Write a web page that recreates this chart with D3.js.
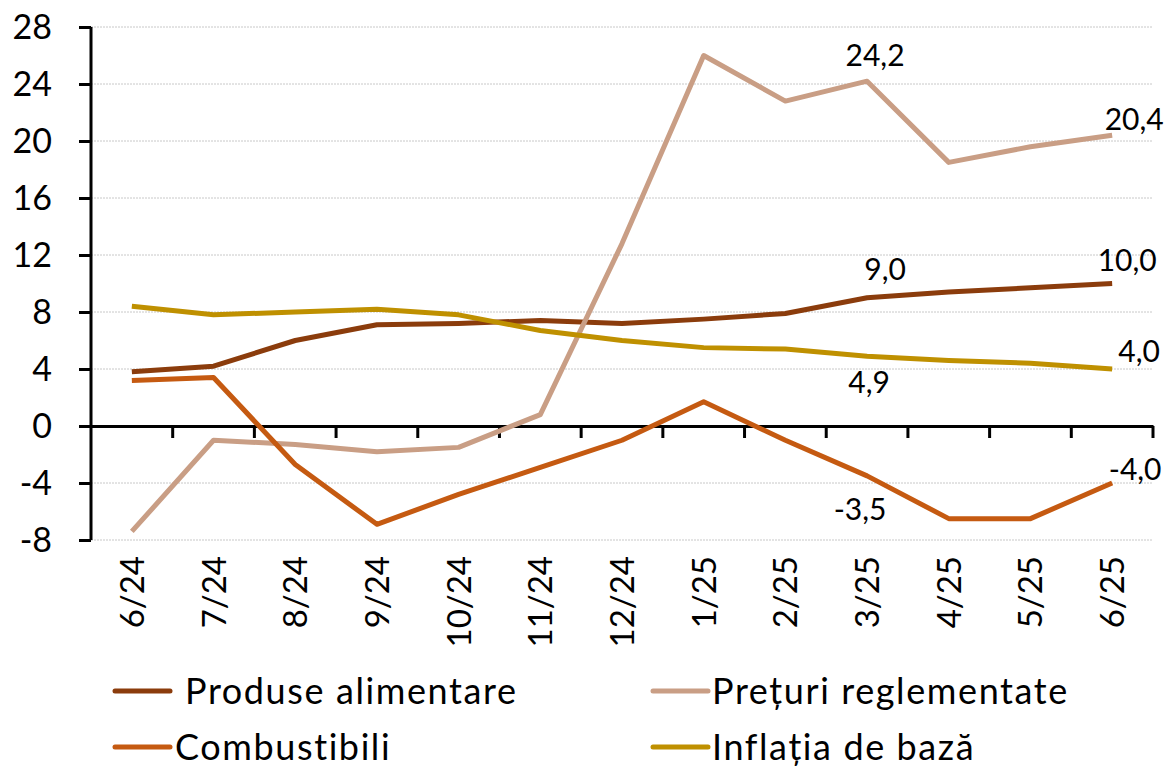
<!DOCTYPE html>
<html><head><meta charset="utf-8">
<script src="https://cdn.jsdelivr.net/npm/d3@7"></script>
<style>
body{margin:0;background:#fff;}
svg text{font-family:Lato, "Open Sans", sans-serif;fill:#000;}
</style></head>
<body><svg id="c" width="1171" height="771"></svg>
<script>
const categories = ["6/24","7/24","8/24","9/24","10/24","11/24","12/24","1/25","2/25","3/25","4/25","5/25","6/25"];
const produseAlimentare = [3.8,4.2,6.0,7.1,7.2,7.4,7.2,7.5,7.9,9.0,9.4,9.7,10.0];
const preturiReglementate = [-7.4,-1.0,-1.3,-1.8,-1.5,0.8,12.8,26.0,22.8,24.2,18.5,19.6,20.4];
const combustibili = [3.2,3.4,-2.7,-6.9,-4.8,-2.9,-1.0,1.7,-1.0,-3.5,-6.5,-6.5,-4.0];
const inflatiaDeBaza = [8.4,7.8,8.0,8.2,7.8,6.7,6.0,5.5,5.4,4.9,4.6,4.4,4.0];
const yTicks = [-8,-4,0,4,8,12,16,20,24,28];
const seriesNames = ["Produse alimentare","Prețuri reglementate","Combustibili","Inflația de bază"];

const colors = ["#8B3C0C","#C99E85","#C55A11","#BF9000"];
const seriesData = [produseAlimentare, preturiReglementate, combustibili, inflatiaDeBaza];

const svg = d3.select("#c");
const x = d3.scaleBand().domain(categories).range([91,1153]).padding(0);
const y = d3.scaleLinear().domain([-8,28]).range([540,27]);
const cx = c => x(c) + x.bandwidth()/2;

// gridlines
svg.append("g").selectAll("line").data(yTicks.filter(t=>t!==0)).join("line")
  .attr("x1",91).attr("x2",1153).attr("y1",d=>y(d)).attr("y2",d=>y(d))
  .attr("stroke","#c8c8c8").attr("stroke-width",1).attr("stroke-dasharray","2,1");

// y axis
const ya = svg.append("g").attr("transform","translate(91,0)")
  .call(d3.axisLeft(y).tickValues(yTicks).tickSize(12).tickPadding(27).tickFormat(d=>d));
ya.select(".domain").attr("stroke","#000").attr("stroke-width",3).attr("d","M0,"+y(28)+"V"+y(-8));
ya.selectAll(".tick line").attr("stroke","#000").attr("stroke-width",3);
ya.selectAll(".tick text").style("font-size","34px").attr("dy","0.35em");

// x axis at zero
const xa = svg.append("g").attr("transform","translate(0,"+y(0)+")")
  .call(d3.axisBottom(x).tickSize(0).tickFormat(""));
xa.select(".domain").attr("stroke","#000").attr("stroke-width",3);
const bounds = categories.map(c=>x(c)).concat([x(categories[categories.length-1])+x.bandwidth()]).slice(1);
xa.selectAll(".bt").data(bounds).join("line").attr("class","bt")
  .attr("x1",d=>d).attr("x2",d=>d).attr("y1",0).attr("y2",12)
  .attr("stroke","#000").attr("stroke-width",3);

// x labels rotated
svg.append("g").selectAll("text").data(categories).join("text")
  .attr("transform",d=>`translate(${cx(d)+12},556) rotate(-90)`)
  .attr("text-anchor","end").style("font-size","33px").text(d=>d);

// lines
const line = d3.line().x((d,i)=>cx(categories[i])).y(d=>y(d));
svg.append("g").selectAll("path").data(seriesData).join("path")
  .attr("d",line).attr("fill","none").attr("stroke",(d,i)=>colors[i])
  .attr("stroke-width",5).attr("stroke-linejoin","round");

// annotations
const fmt = v => d3.format(".1f")(v).replace(".",",").replace("−","-");
const ann = [
  {s:1,i:9,dx:8,dy:-15},
  {s:1,i:12,dx:22,dy:-5},
  {s:0,i:9,dx:18,dy:-18},
  {s:0,i:12,dx:15,dy:-13},
  {s:3,i:12,dx:27,dy:-7},
  {s:3,i:9,dx:2,dy:37},
  {s:2,i:9,dx:-7,dy:44},
  {s:2,i:12,dx:23,dy:-3}
];
svg.append("g").selectAll("text").data(ann).join("text")
  .attr("x",d=>cx(categories[d.i])+d.dx).attr("y",d=>y(seriesData[d.s][d.i])+d.dy)
  .attr("text-anchor","middle").style("font-size","30px")
  .text(d=>fmt(seriesData[d.s][d.i]));

// legend
const leg = [
  {n:0,lx:115,tx:185,y:691},
  {n:1,lx:653,tx:712,y:691},
  {n:2,lx:115,tx:175,y:747},
  {n:3,lx:653,tx:712,y:747}
];
const lg = svg.append("g").selectAll("g").data(leg).join("g");
lg.append("line").attr("x1",d=>d.lx).attr("x2",d=>d.lx+55).attr("y1",d=>d.y).attr("y2",d=>d.y)
  .attr("stroke",d=>colors[d.n]).attr("stroke-width",5).attr("stroke-linecap","round");
lg.append("text").attr("x",d=>d.tx).attr("y",d=>d.y).attr("dy","0.36em")
  .style("font-size","36px").style("letter-spacing","1.6px").text(d=>seriesNames[d.n]);
</script></body></html>
